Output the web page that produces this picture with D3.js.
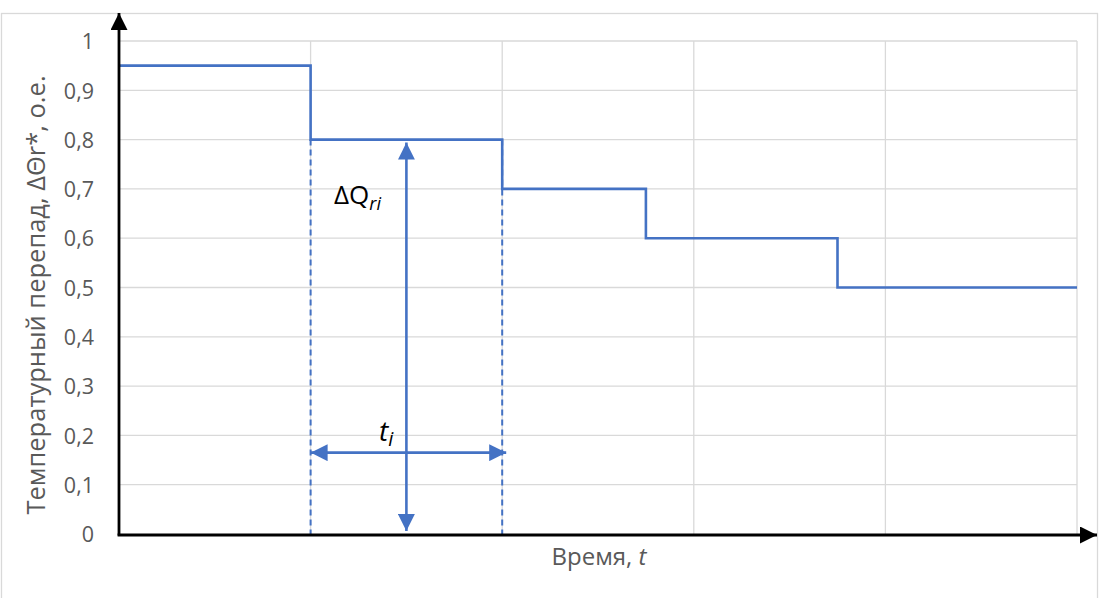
<!DOCTYPE html>
<html><head><meta charset="utf-8">
<script src="https://cdn.jsdelivr.net/npm/d3@7"></script>
<style>body{margin:0;background:#fff}svg{display:block}text{font-family:"Open Sans","Liberation Sans",sans-serif}</style>
</head><body><svg id="c" width="1105" height="598"></svg>
<script>
const yTicks = [0,0.1,0.2,0.3,0.4,0.5,0.6,0.7,0.8,0.9,1];
const yTickLabels = ["0","0,1","0,2","0,3","0,4","0,5","0,6","0,7","0,8","0,9","1"];
const xGrid = [1,2,3,4,5];
const stepTimes = [0,1,2,2.75,3.75,5];
const stepValues = [0.95,0.8,0.7,0.6,0.5,0.5];
const intervalStart = 1, intervalEnd = 2, intervalValue = 0.8;
const tiLevel = 0.165;
const dqTime = 1.5;

const svg = d3.select("#c");
const x = d3.scaleLinear().domain([0,5]).range([119,1077]);
const y = d3.scaleLinear().domain([0,1]).range([534,41]);
const blue = "#4472C4";

// outer border
svg.append("rect").attr("x",1.5).attr("y",13.5).attr("width",1096).attr("height",600)
  .attr("fill","none").attr("stroke","#d9d9d9").attr("stroke-width",1.3);

// grid
svg.append("g").selectAll("line").data(yTicks.filter(d=>d>0)).join("line")
  .attr("x1",x(0)).attr("x2",x(5)).attr("y1",d=>y(d)).attr("y2",d=>y(d))
  .attr("stroke","#d9d9d9").attr("stroke-width",1.3);
svg.append("g").selectAll("line").data(xGrid).join("line")
  .attr("x1",d=>x(d)).attr("x2",d=>x(d)).attr("y1",y(0)).attr("y2",y(1))
  .attr("stroke","#d9d9d9").attr("stroke-width",1.3);

// y tick labels
const yAxis = d3.axisLeft(y).tickValues(yTicks).tickFormat((d,i)=>yTickLabels[i]).tickSize(0).tickPadding(25);
const ga = svg.append("g").attr("transform",`translate(${x(0)},0)`).call(yAxis);
ga.select(".domain").remove();
ga.attr("font-size",null).attr("font-family",null);
ga.selectAll("text").attr("font-size",21.5).attr("fill","#595959").attr("dy","0.36em");

// step line
const line = d3.line().x(d=>x(d[0])).y(d=>y(d[1])).curve(d3.curveStepAfter);
svg.append("path").datum(stepTimes.map((t,i)=>[t,stepValues[i]]))
  .attr("d",line).attr("fill","none").attr("stroke",blue).attr("stroke-width",2.6);

// dashed verticals
[intervalStart,intervalEnd].forEach(t=>{
  svg.append("line").attr("x1",x(t)).attr("x2",x(t)).attr("y1",y(intervalValue)).attr("y2",y(0))
    .attr("stroke",blue).attr("stroke-width",2).attr("stroke-dasharray","6,4");
});

// markers
const defs = svg.append("defs");
defs.append("marker").attr("id","ab").attr("viewBox","0 0 10 10").attr("refX",10).attr("refY",5)
  .attr("markerWidth",17).attr("markerHeight",17).attr("markerUnits","userSpaceOnUse").attr("orient","auto-start-reverse")
  .append("path").attr("d","M0,0 L10,5 L0,10 Z").attr("fill",blue);
defs.append("marker").attr("id","ak").attr("viewBox","0 0 10 10").attr("refX",10).attr("refY",5)
  .attr("markerWidth",17).attr("markerHeight",17).attr("markerUnits","userSpaceOnUse").attr("orient","auto")
  .append("path").attr("d","M0,0 L10,5 L0,10 Z").attr("fill","#000");

// ΔQ arrow
svg.append("line").attr("x1",x(dqTime)).attr("x2",x(dqTime)).attr("y1",y(intervalValue)+3).attr("y2",y(0)-3)
  .attr("stroke",blue).attr("stroke-width",2.6)
  .attr("marker-start","url(#ab)").attr("marker-end","url(#ab)");
// t_i arrow
svg.append("line").attr("x1",x(intervalStart)).attr("x2",x(intervalEnd)+4).attr("y1",y(tiLevel)).attr("y2",y(tiLevel))
  .attr("stroke",blue).attr("stroke-width",2.6)
  .attr("marker-start","url(#ab)").attr("marker-end","url(#ab)");

// axes lines with arrows
svg.append("line").attr("x1",x(0)).attr("x2",x(0)).attr("y1",y(0)+1.5).attr("y2",13)
  .attr("stroke","#000").attr("stroke-width",2.8).attr("marker-end","url(#ak)");
svg.append("line").attr("x1",x(0)-1.4).attr("x2",1097).attr("y1",y(0)+1).attr("y2",y(0)+1)
  .attr("stroke","#000").attr("stroke-width",2.8).attr("marker-end","url(#ak)");

// labels
const dq = svg.append("text").attr("x",334).attr("y",204).attr("font-size",26).attr("fill","#000");
dq.append("tspan").text("ΔQ");
dq.append("tspan").text("ri").attr("font-style","italic").attr("font-size",18).attr("dy",6);
const ti = svg.append("text").attr("x",379).attr("y",441).attr("font-size",28).attr("fill","#000").attr("font-style","italic");
ti.append("tspan").text("t");
ti.append("tspan").text("i").attr("font-size",20).attr("dy",5);

const xt = svg.append("text").attr("x",599).attr("y",565).attr("text-anchor","middle").attr("font-size",24).attr("fill","#595959");
xt.append("tspan").text("Время, ");
xt.append("tspan").text("t").attr("font-style","italic");

svg.append("text").attr("transform","translate(45,295) rotate(-90)").attr("text-anchor","middle")
  .attr("font-size",25.5).attr("fill","#595959").text("Температурный перепад, ΔΘr*, о.е.");
</script></body></html>
